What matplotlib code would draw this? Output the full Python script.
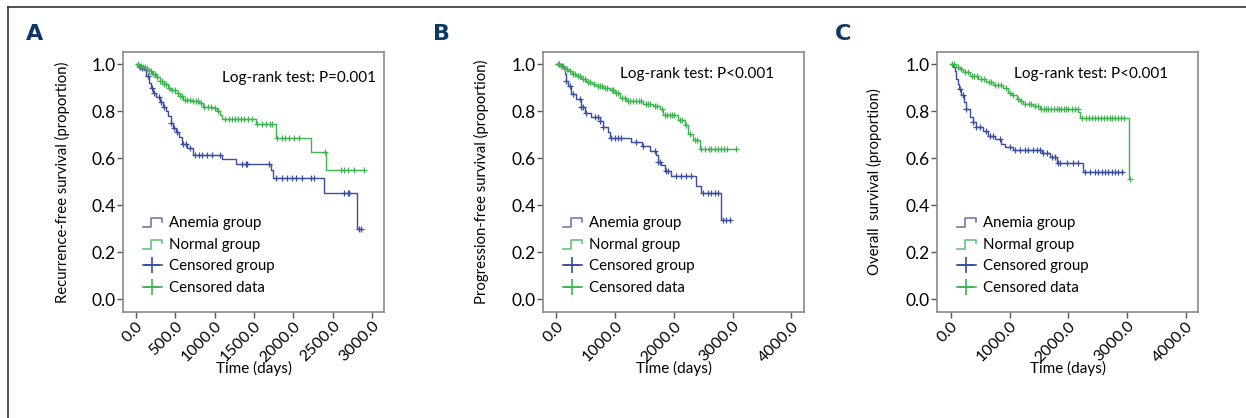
import numpy as np
import matplotlib
matplotlib.use("Agg")
import matplotlib.pyplot as plt
import matplotlib.transforms as mtransforms
from matplotlib.lines import Line2D
from matplotlib.legend_handler import HandlerBase

plt.rcParams['font.family'] = ['Lato', 'DejaVu Sans']

# ---- data (time in days, survival proportion) ----
# panel A: recurrence-free survival
a_anemia_t = [0, 30, 60, 100, 130, 160, 190, 220, 260, 300, 340, 380, 410, 440, 470, 510,
              540, 580, 650, 720, 1095, 1265, 1710, 1745, 2385, 2810, 2860]
a_anemia_s = [1.0, 0.99, 0.985, 0.975, 0.95, 0.92, 0.90, 0.88, 0.86, 0.84, 0.82, 0.80, 0.78,
              0.75, 0.73, 0.71, 0.69, 0.66, 0.645, 0.615, 0.595, 0.575, 0.55, 0.515, 0.452,
              0.30, 0.30]
a_anemia_cens = [50, 80, 150, 200, 230, 290, 320, 360, 450, 480, 520, 600, 640, 690, 753, 796,
                 838, 902, 966, 1072, 1349, 1392, 1413, 1689, 1774, 1860, 1924, 1988, 2030,
                 2115, 2222, 2264, 2647, 2690, 2711, 2830, 2860]
a_normal_t = [0, 40, 80, 120, 160, 200, 250, 300, 350, 400, 450, 500, 560, 600, 700, 800, 850,
              980, 1030, 1070, 1090, 1520, 1775, 2220, 2413, 2902]
a_normal_s = [1.0, 0.995, 0.99, 0.98, 0.97, 0.96, 0.945, 0.93, 0.915, 0.90, 0.89, 0.88, 0.865,
              0.85, 0.845, 0.835, 0.82, 0.815, 0.80, 0.785, 0.766, 0.745, 0.688, 0.627, 0.549,
              0.549]
a_normal_cens = [20, 40, 60, 90, 110, 140, 170, 190, 220, 240, 270, 300, 330, 360, 380, 420, 460,
                 490, 530, 560, 590, 620, 650, 680, 720, 760, 790, 830, 870, 920, 950, 1000,
                 1040, 1136, 1180, 1220, 1260, 1300, 1330, 1370, 1420, 1477, 1541, 1600, 1650,
                 1700, 1732, 1796, 1860, 1900, 1950, 2010, 2072, 2400, 2604, 2650, 2700, 2774,
                 2902]

# panel B: progression-free survival
b_anemia_t = [0, 100, 141, 170, 200, 255, 340, 425, 482, 596, 737, 794, 879, 907, 1276, 1460,
              1590, 1703, 1731, 1788, 1844, 1958, 2383, 2468, 2808, 2950]
b_anemia_s = [1.0, 0.99, 0.96, 0.93, 0.908, 0.875, 0.854, 0.818, 0.793, 0.776, 0.757, 0.733,
              0.711, 0.686, 0.671, 0.654, 0.633, 0.612, 0.586, 0.57, 0.548, 0.526, 0.484,
              0.451, 0.338, 0.338]
b_anemia_cens = [170, 227, 284, 397, 425, 454, 510, 652, 709, 737, 794, 936, 992, 1049, 1106,
                 1361, 1475, 1674, 1731, 1758, 1872, 1900, 2042, 2127, 2212, 2297, 2496, 2581,
                 2637, 2694, 2751, 2836, 2893, 2950]
b_normal_t = [0, 60, 141, 200, 260, 340, 420, 510, 600, 680, 800, 907, 992, 1078, 1191, 1475,
              1645, 1758, 1815, 2070, 2183, 2240, 2325, 2439, 3063]
b_normal_s = [1.0, 0.995, 0.979, 0.97, 0.96, 0.95, 0.94, 0.927, 0.915, 0.908, 0.90, 0.893,
              0.879, 0.857, 0.843, 0.832, 0.822, 0.808, 0.785, 0.765, 0.74, 0.704, 0.68, 0.64,
              0.64]
b_normal_cens = [20, 50, 80, 110, 150, 180, 230, 280, 310, 370, 400, 450, 480, 540, 570, 640,
                 700, 740, 770, 830, 860, 940, 960, 1020, 1050, 1120, 1160, 1220, 1260, 1300,
                 1350, 1400, 1440, 1520, 1560, 1600, 1680, 1720, 1790, 1850, 1890, 1930, 1970,
                 2010, 2100, 2140, 2210, 2280, 2360, 2400, 2470, 2530, 2590, 2640, 2700, 2750,
                 2800, 2850, 2900, 3063]

# panel C: overall survival
c_anemia_t = [0, 40, 68, 96, 120, 142, 182, 221, 267, 324, 380, 437, 551, 636, 750, 863, 920,
              1062, 1545, 1687, 1801, 2255, 2936]
c_anemia_s = [1.0, 0.99, 0.97, 0.939, 0.915, 0.896, 0.868, 0.839, 0.811, 0.776, 0.754, 0.733,
              0.715, 0.697, 0.683, 0.662, 0.647, 0.636, 0.622, 0.605, 0.579, 0.541, 0.541]
c_anemia_cens = [153, 210, 267, 380, 437, 494, 607, 664, 721, 835, 1005, 1090, 1176, 1261,
                 1318, 1403, 1460, 1517, 1574, 1630, 1716, 1772, 1829, 1857, 1971, 2085, 2170,
                 2283, 2369, 2454, 2511, 2568, 2624, 2681, 2738, 2795, 2851, 2908]
c_normal_t = [0, 96, 150, 210, 324, 465, 607, 721, 891, 977, 1034, 1119, 1180, 1233, 1403,
              1517, 2170, 2198, 3038, 3045]
c_normal_s = [1.0, 0.99, 0.98, 0.968, 0.95, 0.939, 0.927, 0.913, 0.899, 0.879, 0.868, 0.854,
              0.843, 0.832, 0.822, 0.811, 0.797, 0.773, 0.512, 0.512]
c_normal_cens = [30, 60, 120, 180, 250, 290, 360, 400, 440, 520, 560, 650, 690, 760, 800, 850,
                 940, 1000, 1060, 1150, 1200, 1270, 1330, 1370, 1440, 1480, 1540, 1580, 1620,
                 1660, 1700, 1760, 1800, 1840, 1880, 1920, 1960, 2000, 2060, 2120, 2160, 2230,
                 2300, 2350, 2400, 2450, 2500, 2550, 2600, 2650, 2700, 2750, 2800, 2850, 2900,
                 2950, 3040]

panel_letters = ['A', 'B', 'C']
ylabels = ['Recurrence-free survival (proportion)', 'Progression-free survival (proportion)',
           'Overall  survival (proportion)']
pvalue_texts = ['Log-rank test: P=0.001', 'Log-rank test: P<0.001', 'Log-rank test: P<0.001']
xticks_list = [[0, 500, 1000, 1500, 2000, 2500, 3000], [0, 1000, 2000, 3000, 4000],
               [0, 1000, 2000, 3000, 4000]]
yticks = [0.0, 0.2, 0.4, 0.6, 0.8, 1.0]
legend_labels = ['Anemia group', 'Normal group', 'Censored group', 'Censored data']

blue = '#3a4d9f'
green = '#3fb451'
blue_leg = '#7479ad'
green_leg = '#66c27a'
navy = '#0c3868'


def surv_at(times, surv, t):
    i = np.searchsorted(times, t, side='right') - 1
    return np.asarray(surv)[np.clip(i, 0, len(surv) - 1)]


class StepHandler(HandlerBase):
    def create_artists(self, legend, orig_handle, xd, yd, width, height, fontsize, trans):
        xs = np.array([0.0, 0.45, 0.45, 1.0, 1.0]) * width - xd
        ys = np.array([0.0, 0.0, 0.8, 0.8, 0.5]) * height - yd
        ln = Line2D(xs, ys, color=orig_handle.get_color(), lw=1.2, transform=trans)
        return [ln]


fig = plt.figure(figsize=(12.46, 4.18), dpi=100)

# outer frame lines (top and left)
fig.add_artist(Line2D([8 / 1246, 1.0], [1 - 7 / 418, 1 - 7 / 418], color='#333333', lw=1.2,
                      transform=fig.transFigure))
fig.add_artist(Line2D([8 / 1246, 8 / 1246], [0, 1 - 7 / 418], color='#333333', lw=1.2,
                      transform=fig.transFigure))

panels = [
    (a_anemia_t, a_anemia_s, a_anemia_cens, a_normal_t, a_normal_s, a_normal_cens),
    (b_anemia_t, b_anemia_s, b_anemia_cens, b_normal_t, b_normal_s, b_normal_cens),
    (c_anemia_t, c_anemia_s, c_anemia_cens, c_normal_t, c_normal_s, c_normal_cens),
]
lefts = [123, 543, 937]
xlims = [(-166, 3153), (-228, 4215), (-233, 4204)]
letter_x = [26, 433, 835]
text_right = [376, 774, 1168]
text_y = [78, 74, 74]
ylabel_x = [-0.203, -0.207, -0.211]
shift = mtransforms.ScaledTranslation(8 / 100, 0, fig.dpi_scale_trans)

for k, (at, as_, ac, nt, ns, nc) in enumerate(panels):
    ax = fig.add_axes([lefts[k] / 1246, 106 / 418, 261 / 1246, 260 / 418])
    ax.step(at, as_, where='post', color=blue, lw=1.0)
    ax.step(nt, ns, where='post', color=green, lw=1.0)
    ax.plot(ac, surv_at(at, as_, ac), '+', color=blue, ms=5, mew=0.9, ls='none')
    ax.plot(nc, surv_at(nt, ns, nc), '+', color=green, ms=5, mew=0.9, ls='none')

    ax.set_xlim(*xlims[k])
    ax.set_ylim(-0.055, 1.053)
    ax.set_yticks(yticks)
    ax.set_yticklabels(['%.1f' % v for v in yticks], fontsize=12.5)
    ax.set_xticks(xticks_list[k])
    ax.set_xticklabels(['%.1f' % v for v in xticks_list[k]], fontsize=11.5, rotation=45,
                       ha='right', va='top', rotation_mode='anchor')
    for lab in ax.get_xticklabels():
        lab.set_transform(lab.get_transform() + shift)
    ax.tick_params(axis='both', direction='out', length=4, width=1, color='#555555', pad=1.5)
    ax.tick_params(axis='x', pad=1)
    for sp in ax.spines.values():
        sp.set_color('#8a8a8a')
        sp.set_linewidth(1.2)

    ax.set_ylabel(ylabels[k], fontsize=10.7)
    ax.yaxis.set_label_coords(ylabel_x[k], 0.5)
    ax.set_xlabel('Time (days)', fontsize=11)
    ax.xaxis.set_label_coords(0.5, -0.19)

    fig.text((text_right[k]) / 1246, 1 - text_y[k] / 418, pvalue_texts[k], fontsize=11,
             ha='right', va='center')
    fig.text(letter_x[k] / 1246, 1 - 34 / 418, panel_letters[k], fontsize=16,
             fontweight='bold', color=navy, ha='left', va='center', family='DejaVu Sans')

    handles = [Line2D([], [], color=blue_leg), Line2D([], [], color=green_leg),
               Line2D([], [], color=blue, marker='+', ms=11, mew=1.2, lw=1.2),
               Line2D([], [], color=green, marker='+', ms=11, mew=1.2, lw=1.2)]
    ax.legend(handles, legend_labels, loc='upper left', bbox_to_anchor=(0.075, 0.37),
              frameon=False, fontsize=10.8, handlelength=1.3, handletextpad=0.45,
              labelspacing=0.52, borderpad=0, borderaxespad=0,
              handler_map={handles[0]: StepHandler(), handles[1]: StepHandler()})

fig.savefig('out.png', dpi=100)
